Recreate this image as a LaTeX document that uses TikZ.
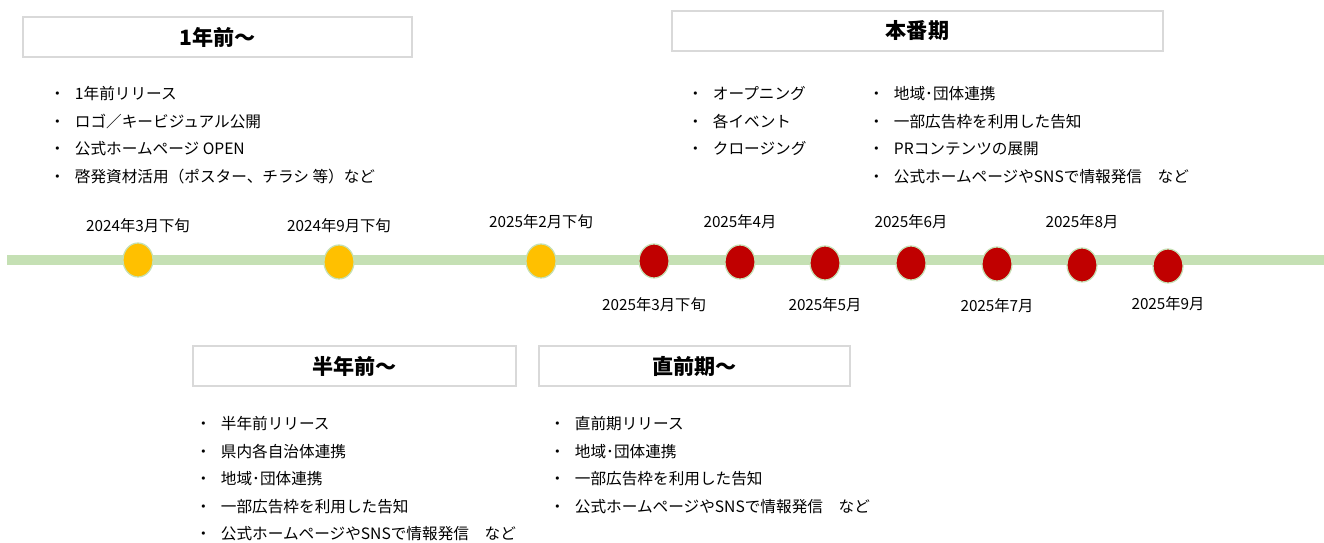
\documentclass[tikz,border=0pt]{standalone}
\usepackage{fontspec}
\setmainfont{Noto Sans CJK JP}
\usetikzlibrary{positioning,shapes.geometric}
\definecolor{tlgreen}{HTML}{C5E0B4}
\definecolor{tlyellow}{HTML}{FFC000}
\definecolor{tlred}{HTML}{C00000}
\definecolor{boxgray}{HTML}{D9D9D9}
\tikzset{
  phase/.style={draw=boxgray, line width=0.9pt, fill=white, minimum height=0.8cm,
    font=\fontsize{12}{14}\selectfont\bfseries},
  dot/.style={ellipse, draw=tlgreen, line width=0.7pt, minimum width=0.6cm,
    minimum height=0.68cm, inner sep=0pt},
  datelbl/.style={font=\fontsize{8.7}{10}\selectfont, inner sep=0pt},
  items/.style={align=left, anchor=north west, inner sep=0pt,
    font=\fontsize{8.9}{15.7}\selectfont}
}
\newcommand\bul{\makebox[8pt][c]{・}\hspace{6pt}}
\begin{document}
\begin{tikzpicture}[x=0.02cm, y=-0.02cm]
  \useasboundingbox (0,0) rectangle (1324,543);
  % timeline
  \coordinate (tl0) at (7,260);
  \coordinate (tl1) at (1324,260);
  \draw[tlgreen, line width=0.2cm] (tl0) -- (tl1);
  \foreach \n/\x/\y/\c/\ly/\txt in {
      1/138/260/tlyellow/226/2024年3月下旬,
      2/339/262/tlyellow/226/2024年9月下旬,
      3/541/261/tlyellow/222/2025年2月下旬,
      4/654/261/tlred/305/2025年3月下旬,
      5/740/262/tlred/222/2025年4月,
      6/825/263/tlred/305/2025年5月,
      7/911/263/tlred/222/2025年6月,
      8/997/264/tlred/306/2025年7月,
      9/1082/265/tlred/222/2025年8月,
      10/1168/266/tlred/304/2025年9月}
  {
    \node[dot, fill=\c] (d\n) at (\x,\y) {};
    \node[datelbl] (t\n) at (\x,\ly) {\txt};
  }
  % phase boxes
  \node[phase, minimum width=7.78cm] (p1) at (217.5,37) {1年前～};
  \node[phase, minimum width=6.46cm] (p2) at (354.5,366) {半年前～};
  \node[phase, minimum width=6.22cm] (p3) at (694.5,366) {直前期～};
  \node[phase, minimum width=9.82cm] (p4) at (917.5,31) {本番期};
  % item lists
  \node[items] (l1) at (50,86) {\bul 1年前リリース\\
    \bul ロゴ／キービジュアル公開\\
    \bul 公式ホームページ OPEN\\
    \bul 啓発資材活用（ポスター、チラシ 等）など};
  \node[items] (l2) at (196,416) {\bul 半年前リリース\\
    \bul 県内各自治体連携\\
    \bul 地域･団体連携\\
    \bul 一部広告枠を利用した告知\\
    \bul 公式ホームページやSNSで情報発信　など};
  \node[items] (l3) at (550,416) {\bul 直前期リリース\\
    \bul 地域･団体連携\\
    \bul 一部広告枠を利用した告知\\
    \bul 公式ホームページやSNSで情報発信　など};
  \node[items] (l4a) at (688,86) {\bul オープニング\\
    \bul 各イベント\\
    \bul クロージング};
  \node[items] (l4b) at (869,86) {\bul 地域･団体連携\\
    \bul 一部広告枠を利用した告知\\
    \bul PRコンテンツの展開\\
    \bul 公式ホームページやSNSで情報発信　など};
\end{tikzpicture}
\end{document}
